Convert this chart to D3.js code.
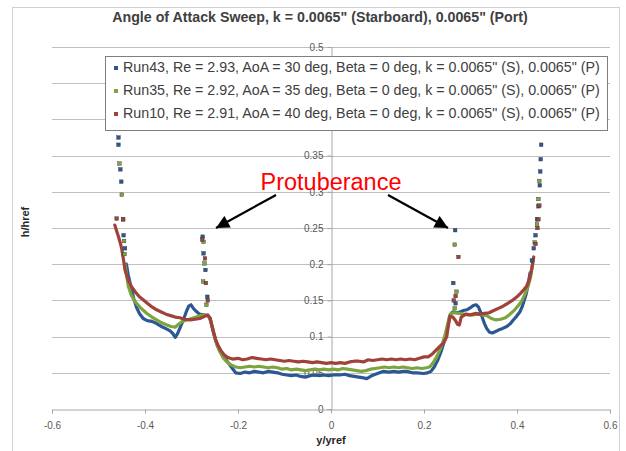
<!DOCTYPE html>
<html><head><meta charset="utf-8">
<script src="https://cdn.jsdelivr.net/npm/d3@7"></script>
<style>html,body{margin:0;padding:0;background:#fff;} svg{display:block;}</style>
</head><body>
<svg id="chart" width="626" height="451"></svg>
<script>
const chartTitle = 'Angle of Attack Sweep, k = 0.0065" (Starboard), 0.0065" (Port)';
const xAxisTitle = "y/yref";
const yAxisTitle = "h/href";
const annotationText = "Protuberance";
const xTicks = [-0.6, -0.4, -0.2, 0, 0.2, 0.4, 0.6];
const yTicks = [0, 0.05, 0.1, 0.15, 0.2, 0.25, 0.3, 0.35, 0.4, 0.45, 0.5];
const seriesNames = [
  'Run43, Re = 2.93, AoA = 30 deg, Beta = 0 deg, k = 0.0065" (S), 0.0065" (P)',
  'Run35, Re = 2.92, AoA = 35 deg, Beta = 0 deg, k = 0.0065" (S), 0.0065" (P)',
  'Run10, Re = 2.91, AoA = 40 deg, Beta = 0 deg, k = 0.0065" (S), 0.0065" (P)'
];

// Run43 (AoA 30)
const run43Curve = [
  [-0.440,0.200],[-0.436,0.185],[-0.430,0.168],[-0.424,0.152],[-0.418,0.140],[-0.412,0.132],[-0.404,0.125],
  [-0.395,0.122],[-0.385,0.121],[-0.375,0.118],[-0.365,0.114],[-0.355,0.111],[-0.346,0.108],[-0.340,0.104],
  [-0.335,0.099],[-0.330,0.104],[-0.324,0.113],[-0.318,0.122],[-0.312,0.133],[-0.306,0.142],[-0.301,0.144],
  [-0.296,0.139],[-0.290,0.135],[-0.283,0.131],[-0.275,0.130],[-0.266,0.129],[-0.260,0.126],[-0.257,0.117],
  [-0.253,0.106],[-0.248,0.094],[-0.243,0.086],[-0.236,0.078],[-0.228,0.070],[-0.220,0.063],[-0.212,0.056],
  [-0.205,0.050],[-0.195,0.049],[-0.185,0.051],[-0.175,0.050],[-0.165,0.052],[-0.155,0.051],[-0.145,0.050],
  [-0.135,0.052],[-0.125,0.051],[-0.115,0.050],[-0.105,0.048],[-0.095,0.047],[-0.085,0.046],[-0.075,0.047],
  [-0.065,0.045],[-0.055,0.044],[-0.045,0.046],[-0.035,0.047],[-0.025,0.046],[-0.015,0.047],[-0.005,0.046],
  [0.005,0.047],[0.019,0.047],[0.030,0.048],[0.040,0.046],[0.050,0.045],[0.060,0.044],[0.070,0.043],
  [0.077,0.042],[0.085,0.045],[0.091,0.047],[0.100,0.049],[0.113,0.052],[0.125,0.051],[0.135,0.052],
  [0.145,0.051],[0.155,0.052],[0.163,0.052],[0.175,0.050],[0.185,0.050],[0.199,0.049],[0.208,0.050],
  [0.215,0.052],[0.222,0.058],[0.230,0.068],[0.236,0.078],[0.241,0.088],[0.246,0.099],[0.250,0.110],
  [0.253,0.120],[0.256,0.130],[0.262,0.134],[0.270,0.133],[0.277,0.134],[0.285,0.136],[0.292,0.137],
  [0.300,0.140],[0.306,0.143],[0.312,0.144],[0.317,0.141],[0.321,0.135],[0.325,0.127],[0.330,0.118],
  [0.335,0.111],[0.341,0.106],[0.347,0.105],[0.354,0.107],[0.360,0.109],[0.368,0.111],[0.378,0.114],
  [0.386,0.118],[0.392,0.123],[0.399,0.128],[0.406,0.134],[0.411,0.141],[0.415,0.149],[0.419,0.157],
  [0.422,0.166],[0.425,0.176],[0.428,0.188]
];
const run43Dots = [
  [-0.457,0.375],[-0.457,0.365],[-0.453,0.331],[-0.451,0.314],[-0.446,0.240],[-0.443,0.222],
  [-0.276,0.238],[-0.274,0.215],[-0.270,0.192],[-0.266,0.155],
  [0.267,0.247],[0.263,0.174],[0.268,0.146],
  [0.432,0.205],[0.436,0.222],[0.440,0.240],[0.443,0.262],[0.446,0.280],[0.449,0.309],[0.450,0.328],
  [0.451,0.345],[0.452,0.365]
];

// Run35 (AoA 35)
const run35Curve = [
  [-0.443,0.200],[-0.440,0.186],[-0.436,0.170],[-0.430,0.158],[-0.421,0.148],[-0.410,0.140],[-0.396,0.132],
  [-0.385,0.127],[-0.375,0.123],[-0.364,0.119],[-0.353,0.116],[-0.344,0.114],[-0.335,0.113],[-0.328,0.117],
  [-0.320,0.121],[-0.310,0.123],[-0.300,0.125],[-0.290,0.127],[-0.280,0.129],[-0.270,0.130],[-0.263,0.128],
  [-0.258,0.120],[-0.254,0.110],[-0.250,0.099],[-0.245,0.088],[-0.239,0.079],[-0.232,0.071],[-0.224,0.065],
  [-0.215,0.061],[-0.205,0.058],[-0.195,0.057],[-0.185,0.058],[-0.175,0.059],[-0.165,0.058],[-0.155,0.059],
  [-0.145,0.058],[-0.135,0.057],[-0.125,0.058],[-0.115,0.057],[-0.105,0.055],[-0.095,0.056],[-0.085,0.054],
  [-0.075,0.055],[-0.065,0.054],[-0.055,0.053],[-0.045,0.054],[-0.035,0.055],[-0.025,0.054],[-0.015,0.055],
  [-0.005,0.054],[0.005,0.055],[0.015,0.054],[0.025,0.056],[0.035,0.055],[0.045,0.054],[0.055,0.053],
  [0.065,0.052],[0.075,0.053],[0.085,0.055],[0.095,0.056],[0.105,0.057],[0.115,0.058],[0.125,0.057],
  [0.135,0.058],[0.145,0.057],[0.155,0.058],[0.165,0.057],[0.175,0.056],[0.185,0.057],[0.195,0.056],
  [0.205,0.057],[0.212,0.058],[0.220,0.064],[0.228,0.073],[0.235,0.083],[0.241,0.093],[0.246,0.104],
  [0.250,0.115],[0.254,0.126],[0.258,0.132],[0.265,0.133],[0.275,0.132],[0.285,0.131],[0.295,0.130],
  [0.305,0.130],[0.315,0.131],[0.325,0.130],[0.335,0.129],[0.345,0.125],[0.355,0.123],[0.365,0.124],
  [0.375,0.126],[0.385,0.131],[0.395,0.137],[0.403,0.143],[0.410,0.149],[0.416,0.157],[0.421,0.165],
  [0.425,0.172],[0.429,0.182],[0.432,0.194],[0.435,0.208]
];
const run35Dots = [
  [-0.455,0.339],[-0.450,0.296],[-0.447,0.262],[-0.445,0.232],[-0.444,0.214],
  [-0.274,0.231],[-0.272,0.201],[-0.275,0.176],[-0.268,0.144],
  [0.266,0.227],[0.270,0.162],[0.266,0.139],
  [0.438,0.230],[0.443,0.255],[0.446,0.290],[0.448,0.315]
];

// Run10 (AoA 40)
const run10Curve = [
  [-0.465,0.254],[-0.461,0.246],[-0.457,0.238],[-0.453,0.229],[-0.450,0.221],[-0.448,0.213],[-0.446,0.205],
  [-0.443,0.192],[-0.436,0.178],[-0.429,0.169],[-0.420,0.161],[-0.412,0.155],[-0.404,0.151],[-0.395,0.146],
  [-0.385,0.141],[-0.375,0.137],[-0.365,0.134],[-0.355,0.131],[-0.345,0.129],[-0.335,0.127],[-0.325,0.126],
  [-0.315,0.124],[-0.303,0.123],[-0.292,0.124],[-0.282,0.125],[-0.272,0.128],[-0.265,0.130],[-0.260,0.125],
  [-0.256,0.115],[-0.252,0.105],[-0.248,0.096],[-0.243,0.088],[-0.237,0.081],[-0.230,0.075],[-0.222,0.071],
  [-0.212,0.069],[-0.200,0.070],[-0.190,0.068],[-0.180,0.069],[-0.170,0.071],[-0.160,0.070],[-0.150,0.069],
  [-0.140,0.068],[-0.130,0.069],[-0.120,0.068],[-0.110,0.067],[-0.100,0.066],[-0.090,0.067],[-0.080,0.066],
  [-0.070,0.065],[-0.060,0.066],[-0.050,0.065],[-0.040,0.064],[-0.030,0.065],[-0.020,0.064],[-0.010,0.063],
  [0.000,0.064],[0.010,0.063],[0.020,0.064],[0.030,0.063],[0.040,0.065],[0.050,0.066],[0.060,0.066],
  [0.070,0.065],[0.080,0.068],[0.090,0.067],[0.100,0.068],[0.110,0.069],[0.120,0.068],[0.130,0.069],
  [0.140,0.068],[0.150,0.069],[0.160,0.068],[0.170,0.069],[0.180,0.068],[0.190,0.070],[0.200,0.072],
  [0.209,0.072],[0.218,0.076],[0.227,0.082],[0.235,0.087],[0.242,0.091],[0.249,0.100],[0.252,0.114],
  [0.256,0.128],[0.262,0.127],[0.268,0.122],[0.272,0.117],[0.276,0.116],[0.280,0.127],[0.290,0.131],
  [0.300,0.130],[0.310,0.132],[0.320,0.131],[0.330,0.132],[0.340,0.133],[0.350,0.136],[0.360,0.139],
  [0.370,0.142],[0.380,0.146],[0.390,0.150],[0.400,0.155],[0.408,0.160],[0.415,0.165],[0.421,0.170],
  [0.426,0.178],[0.430,0.188],[0.433,0.198],[0.436,0.210]
];
const run10Dots = [
  [-0.461,0.263],[-0.447,0.262],
  [-0.277,0.234],[-0.271,0.208],[-0.269,0.174],[-0.265,0.150],
  [0.274,0.210],[0.268,0.156],[0.264,0.150],
  [0.440,0.228],[0.444,0.250],[0.446,0.262],[0.448,0.281]
];

const seriesCurves = [run43Curve, run35Curve, run10Curve];
const seriesDots = [run43Dots, run35Dots, run10Dots];
const seriesColors = ["#2b5894", "#7da43e", "#a0423a"];

const svg = d3.select("#chart");
const x = d3.scaleLinear().domain([-0.6, 0.6]).range([52, 610]);
const y = d3.scaleLinear().domain([0, 0.5]).range([409, 47]);
const FONT = "'Liberation Sans', Arial, sans-serif";
const legendBox = {x: 105.5, y: 56.5, w: 502, h: 74};

function fitWidth(sel, target) {
  const w = sel.node().getComputedTextLength();
  const fs = parseFloat(sel.attr("font-size"));
  sel.attr("font-size", (fs * target / w).toFixed(2));
}

// outer chart border
svg.append("rect").attr("x", 12.5).attr("y", 7.5).attr("width", 607).attr("height", 470)
  .attr("fill", "#fff").attr("stroke", "#d0d0d0");

// gridlines
svg.append("g").selectAll("line").data(yTicks.filter(d => d > 0)).join("line")
  .attr("x1", x(-0.6)).attr("x2", x(0.6))
  .attr("y1", d => Math.round(y(d)) + 0.5).attr("y2", d => Math.round(y(d)) + 0.5)
  .attr("stroke", "#bfbfbf").attr("stroke-width", 1);

// y axis at x=0 (labels hidden behind the legend box are not drawn)
const visibleYTicks = yTicks.filter(d => y(d) < legendBox.y - 2 || y(d) > legendBox.y + legendBox.h + 2);
const yAxis = d3.axisLeft(y).tickValues(visibleYTicks).tickSize(4).tickFormat(d => String(d));
const gy = svg.append("g").attr("transform", `translate(${Math.round(x(0)) + 0.5},0)`).call(yAxis);
gy.select(".domain").attr("stroke", "#a6a6a6");
gy.selectAll(".tick line").attr("stroke", "#a6a6a6");
gy.selectAll(".tick text").attr("font-family", FONT).attr("font-size", 10).attr("fill", "#595959").attr("x", -8);

// x axis at y=0
const xAxis = d3.axisBottom(x).tickValues(xTicks).tickSize(4).tickFormat(d => String(d));
const gx = svg.append("g").attr("transform", `translate(0,${Math.round(y(0)) + 0.5})`).call(xAxis);
gx.select(".domain").attr("stroke", "#a6a6a6");
gx.selectAll(".tick line").attr("stroke", "#a6a6a6");
gx.selectAll(".tick text").attr("font-family", FONT).attr("font-size", 10).attr("fill", "#595959").attr("dy", "1.25em");

// data
const line = d3.line().x(d => x(d[0])).y(d => y(d[1]));
seriesCurves.forEach((pts, i) => {
  svg.append("path").datum(pts).attr("d", line).attr("fill", "none")
    .attr("stroke", seriesColors[i]).attr("stroke-width", 3.2)
    .attr("stroke-linejoin", "round").attr("stroke-linecap", "round");
});
seriesDots.forEach((pts, i) => {
  svg.append("g").selectAll("rect").data(pts).join("rect")
    .attr("x", d => x(d[0]) - 1.8).attr("y", d => y(d[1]) - 1.8)
    .attr("width", 3.6).attr("height", 3.6).attr("fill", seriesColors[i])
    .attr("stroke", "#333").attr("stroke-width", 0.4);
});

// annotation
const ann = svg.append("text").attr("x", 331).attr("y", 190).attr("text-anchor", "middle")
  .attr("font-family", "'Liberation Sans', Arial, sans-serif").attr("font-size", 20).attr("fill", "#ff0000")
  .text(annotationText);
fitWidth(ann, 141);
const defs = svg.append("defs");
defs.append("marker").attr("id", "ah").attr("viewBox", "0 0 10 10").attr("refX", 10).attr("refY", 5)
  .attr("markerWidth", 7).attr("markerHeight", 6).attr("markerUnits", "strokeWidth").attr("orient", "auto")
  .append("path").attr("d", "M0,0 L10,5 L0,10 z").attr("fill", "#000");
svg.append("line").attr("x1", 276).attr("y1", 195).attr("x2", 216).attr("y2", 228)
  .attr("stroke", "#000").attr("stroke-width", 2.2).attr("marker-end", "url(#ah)");
svg.append("line").attr("x1", 388).attr("y1", 195).attr("x2", 448).attr("y2", 228)
  .attr("stroke", "#000").attr("stroke-width", 2.2).attr("marker-end", "url(#ah)");

// title
const title = svg.append("text").attr("x", 320).attr("y", 22).attr("text-anchor", "middle")
  .attr("font-family", FONT).attr("font-weight", "bold").attr("font-size", 11).attr("fill", "#404040")
  .text(chartTitle);
fitWidth(title, 416);

// axis titles
svg.append("text").attr("x", 331).attr("y", 444).attr("text-anchor", "middle")
  .attr("font-family", FONT).attr("font-weight", "bold").attr("font-size", 11).attr("fill", "#262626")
  .text(xAxisTitle);
svg.append("text").attr("transform", "translate(29,222) rotate(-90)").attr("text-anchor", "middle")
  .attr("font-family", FONT).attr("font-weight", "bold").attr("font-size", 11).attr("fill", "#262626")
  .text(yAxisTitle);

// legend
const lg = svg.append("g");
lg.append("rect").attr("x", legendBox.x).attr("y", legendBox.y).attr("width", legendBox.w).attr("height", legendBox.h)
  .attr("fill", "#fff").attr("stroke", "#7f7f7f");
seriesNames.forEach((name, i) => {
  const cy = 68 + i * 23;
  lg.append("rect").attr("x", 114).attr("y", cy - 2).attr("width", 4).attr("height", 4)
    .attr("fill", seriesColors[i]);
  const t = lg.append("text").attr("x", 123).attr("y", cy + 4)
    .attr("font-family", FONT).attr("font-size", 11).attr("fill", "#404040").text(name);
  fitWidth(t, 477);
});
</script>
</body></html>
